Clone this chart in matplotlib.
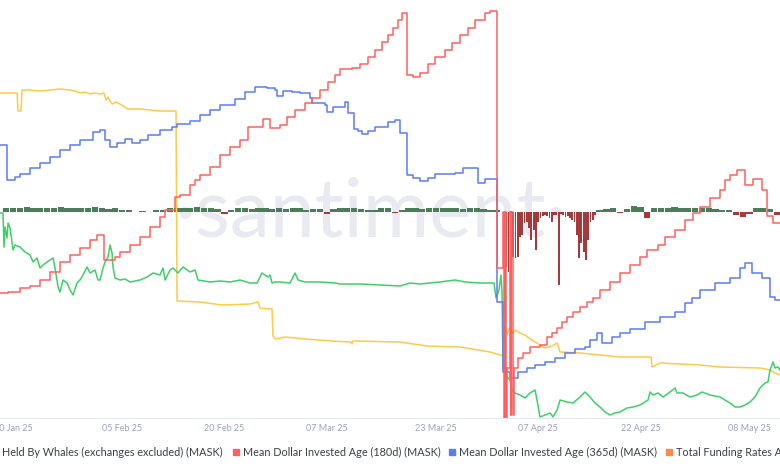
import numpy as np
import pandas as pd
import matplotlib
matplotlib.use("Agg")
import matplotlib.pyplot as plt
import matplotlib.dates as mdates
from matplotlib.patches import Rectangle

plt.rcParams['font.family'] = ['Lato', 'DejaVu Sans']

# x values are days after 20 Jan 2025, y values are heights read off the chart (no axis scale shown)
start = pd.Timestamp("2025-01-20")

# Mean Dollar Invested Age (180d), step line
mdia180_days = [-1.91, -0.73, 1.03, 2.49, 3.96, 5.43, 6.89, 8.36, 9.82, 11.29, 12.32, 13.34, 14.96, 15.69,
                17.16, 18.62, 20.09, 21.55, 22.29, 23.75, 24.49, 25.95, 26.69, 27.42, 28.89, 30.35, 31.82,
                33.28, 34.46, 36.66, 37.68, 39.15, 40.18, 41.35, 42.82, 43.84, 45.01, 46.19, 47.21, 47.95,
                49.71, 50.88, 52.05, 53.08, 54.11, 54.99, 55.72, 56.45, 57.04, 57.77, 58.65, 59.68, 60.85,
                61.88, 63.34, 64.37, 65.54, 66.72, 67.74, 69.21, 69.94, 70.97,
                71.85, 71.99, 72.14, 72.29, 72.43, 72.80, 72.95, 73.09, 73.24, 73.46,
                74.05, 74.78, 75.81, 77.27, 78.30, 79.03, 79.77, 80.50, 81.23, 82.11, 83.14, 84.16, 85.04,
                86.07, 87.54, 89.00, 90.47, 91.94, 92.96, 94.57, 95.60, 97.07, 98.53, 99.71, 100.73, 102.20,
                103.67, 104.40, 105.13, 106.16, 107.33, 108.50, 109.82, 110.56, 111.44, 112.46]
mdia180_vals = [125, 126, 130, 132, 138, 146, 156, 163, 170, 178, 183, 158, 161, 166,
                173, 181, 191, 201, 208, 221, 223, 233, 238, 243, 251, 263, 271,
                278, 291, 299, 290, 293, 301, 308, 315, 320, 328, 336, 343, 349,
                350, 354, 361, 368, 376, 383, 390, 398, 405, 343, 341, 345, 354,
                361, 368, 375, 383, 390, 398, 405, 407, 150,
                206, -5, 206, -5, 50, 206, 3, 206, 3, 50,
                60, 65, 71, 73, 81, 85, 90, 96, 101, 106, 111, 116, 120,
                128, 136, 145, 153, 161, 168, 173, 181, 188, 198, 205, 211, 220,
                228, 238, 243, 248, 233, 239, 228, 202, 195, 195]

# Mean Dollar Invested Age (365d), step line
mdia365_days = [-1.91, -0.88, 0.29, 1.03, 2.49, 3.96, 5.43, 6.89, 8.36, 9.82, 11.73, 12.76, 13.49, 14.22,
                15.25, 16.42, 17.45, 18.62, 19.79, 21.55, 23.31, 24.05, 25.95, 27.42, 28.89, 30.35, 32.55,
                34.02, 35.48, 37.24, 38.42, 38.71, 39.59, 40.91, 42.08, 43.55, 43.84, 45.75, 46.04, 46.92,
                48.68, 49.12, 50.00, 50.59, 51.17, 52.05, 53.08, 54.99, 56.01, 56.74, 57.77, 58.65, 59.68,
                60.85, 61.88, 64.81, 65.98, 68.18, 69.21, 70.97, 71.85, 72.87, 74.05, 75.37, 76.54, 78.01,
                79.47, 80.94, 82.40, 83.87, 84.60, 85.63, 86.36, 87.83, 89.00, 90.47, 92.67, 94.87, 97.07,
                98.53, 99.57, 100.73, 102.93, 105.13, 106.60, 107.33, 108.36, 109.82, 111.00, 111.73, 112.46]
mdia365_vals = [273, 238, 241, 244, 250, 255, 261, 268, 273, 278, 286, 288, 278, 271,
                275, 279, 275, 278, 283, 288, 291, 294, 297, 303, 308, 313, 319,
                326, 331, 330, 328, 322, 327, 326, 325, 320, 315, 313, 306, 311,
                316, 305, 289, 287, 284, 287, 291, 296, 298, 285, 243, 240, 237,
                240, 244, 245, 250, 235, 239, 116, 46, 40, 46, 50, 53, 56,
                60, 65, 69, 71, 78, 85, 75, 81, 85, 89, 96, 101, 106,
                115, 120, 128, 135, 140, 150, 155, 145, 140, 121, 118, 118]

# yellow series
yellow_days = [-1.91, 0.59, 0.73, 1.17, 1.32, 2.49, 3.96, 5.43, 6.89, 8.36, 9.09, 9.82, 10.56, 11.29, 12.02,
               12.76, 13.34, 13.64, 13.93, 14.22, 14.52, 15.10, 15.69, 16.86, 18.62, 20.09, 21.55, 23.90,
               24.05, 27.42, 30.65, 34.75, 35.92, 36.22, 37.98, 38.12, 38.42, 39.88, 42.96, 46.48, 49.56,
               49.71, 49.85, 56.74, 60.70, 65.54, 69.94, 71.41, 71.85, 72.14, 72.43, 72.87, 73.31, 73.61,
               74.34, 75.07, 76.10, 77.27, 78.01, 79.03, 79.77, 80.21, 83.14, 86.07, 89.00, 93.55, 93.70,
               94.87, 97.80, 100.73, 103.67, 109.53, 111.00, 111.73, 112.46]
yellow_vals = [325, 325, 307, 307, 328, 328, 327, 328, 329, 328, 327, 325, 326, 324, 325,
               324, 325, 318, 321, 317, 314, 316, 314, 309, 309, 308, 307, 307,
               117, 116, 113, 114, 116, 110, 109, 82, 79, 81, 79, 77, 76,
               74, 77, 76, 72, 71, 66, 63, 62, 93, 83, 91, 85, 88,
               85, 83, 78, 73, 70, 72, 75, 66, 65, 63, 61, 61, 51,
               55, 54, 53, 51, 50, 48, 45, 43]

# Held By Whales (exchanges excluded)
whales_days = [-1.91, -1.47, -1.32, -1.17, -0.88, -0.73, -0.44, 0.0, 0.29, 1.03, 1.76, 2.49, 2.93, 3.52,
               3.96, 4.40, 4.99, 5.43, 5.87, 6.16, 6.60, 6.89, 7.33, 7.92, 8.36, 8.80, 9.38, 9.82, 10.26,
               10.85, 11.29, 12.02, 12.46, 12.76, 13.20, 13.49, 13.93, 14.22, 14.52, 14.66, 14.96, 15.69,
               16.42, 17.16, 18.62, 19.65, 20.53, 21.55, 21.99, 22.29, 23.02, 23.46, 24.19, 24.93, 25.95,
               26.69, 27.13, 28.89, 30.35, 31.82, 33.28, 34.75, 35.78, 36.51, 36.95, 37.39, 37.68, 37.98,
               38.42, 39.15, 40.62, 41.35, 41.79, 42.82, 45.01, 47.21, 47.95, 50.88, 53.81, 56.74, 58.21,
               59.68, 62.61, 64.81, 66.28, 68.48, 70.53, 70.82, 71.26, 71.55, 71.70, 71.85, 72.14, 72.87,
               73.17, 73.61, 74.34, 75.07, 75.81, 76.54, 76.83, 77.27, 78.01, 78.74, 79.18, 79.77, 80.21,
               81.23, 82.11, 83.14, 83.87, 84.60, 85.34, 86.07, 86.80, 87.54, 88.27, 89.00, 90.03, 90.91,
               91.94, 93.11, 93.40, 93.84, 94.57, 95.31, 96.33, 97.07, 97.36, 98.24, 99.27, 100.29, 101.03,
               102.20, 103.67, 104.40, 105.13, 105.87, 106.60, 107.33, 108.06, 108.80, 109.53, 110.26,
               110.70, 111.00, 111.44, 111.73, 112.17, 112.46]
whales_vals = [205, 205, 171, 191, 180, 195, 190, 168, 173, 171, 166, 163, 156, 160,
               150, 153, 156, 158, 160, 150, 131, 126, 138, 135, 128, 123, 135, 138, 143,
               151, 145, 148, 138, 138, 150, 156, 161, 173, 165, 151, 140, 138,
               139, 136, 138, 141, 145, 143, 150, 138, 148, 150, 145, 151, 146,
               148, 138, 136, 137, 136, 138, 135, 135, 145, 143, 141, 143, 135,
               136, 136, 135, 145, 138, 136, 136, 135, 134, 134, 133, 132, 135,
               134, 136, 138, 136, 135, 135, 120, 128, 143, 125, 51, 43, 38,
               28, 25, 23, 20, 25, 28, 18, 1, 3, 5, 1, 8, 18,
               16, 15, 21, 26, 21, 15, 11, 6, 3, 5, 6, 10, 11,
               13, 18, 26, 23, 25, 21, 26, 30, 25, 25, 21, 23, 26,
               23, 21, 18, 15, 11, 11, 13, 16, 21, 30, 35,
               36, 48, 56, 50, 51, 48]

# Total funding rates (%), daily then 8h around the April drop
funding_days_a = list(range(-1, 72))
funding_a = [0.010, 0.011, 0.010, 0.012, 0.011, 0.010, 0.011, 0.010, 0.012, 0.010, 0.009, 0.011, 0.010,
             0.012, 0.010, 0.008, 0.010, 0.006, 0.004, 0.000, 0.003, 0.000, 0.004, 0.006, 0.009, 0.010,
             0.011, 0.010, 0.012, 0.010, 0.011, 0.008, -0.004, 0.005, 0.009, 0.010, 0.008, 0.010, 0.009,
             0.007, 0.010, 0.008, 0.009, 0.010, 0.006, 0.008, 0.007, -0.004, 0.008, 0.010, 0.009, 0.011,
             0.008, 0.006, 0.004, 0.009, 0.010, -0.003, 0.005, 0.009, 0.010, 0.008, 0.009, 0.010, 0.011,
             0.009, 0.010, 0.008, 0.010, 0.009, 0.008, 0.006, 0.004]
funding_days_b = [72 + k / 3 for k in range(41)]
funding_b = [-0.125, -0.138, -0.150, -0.125, -0.113, -0.115, -0.113, -0.063, -0.058, -0.028, -0.025,
             -0.040, -0.070, -0.045, -0.095, -0.025, -0.015, -0.010, -0.008, -0.010, -0.015, -0.025,
             -0.008, -0.008, -0.183, -0.005, -0.008, -0.013, -0.010, -0.015, -0.020, -0.025, -0.058,
             -0.115, -0.078, -0.100, -0.120, -0.070, -0.025, -0.020, -0.008]
funding_days_c = list(range(86, 113))
funding_c = [0.006, 0.008, 0.010, -0.003, 0.008, 0.014, 0.012, -0.015, 0.010, 0.011, 0.010, 0.012, 0.010,
             0.011, 0.010, 0.009, 0.010, 0.008, 0.006, 0.005, -0.008, -0.012, -0.006, 0.009, 0.010, 0.008,
             -0.008]

tick_dates = ["2025-01-20", "2025-02-05", "2025-02-20", "2025-03-07", "2025-03-23",
              "2025-04-07", "2025-04-22", "2025-05-08"]


def to_dates(days):
    return start + pd.to_timedelta(np.array(days, dtype=float), unit="D")


fig = plt.figure(figsize=(7.8, 4.7), dpi=100)
fig.patch.set_facecolor("white")
ax = fig.add_axes([0, 52 / 470, 1, 418 / 470])
ax2 = ax.twinx()
ax.set_zorder(ax2.get_zorder() + 1)
ax.patch.set_visible(False)

# watermark and funding bars sit on the lower axes
ax2.text(0.475, 0.49, "·santiment·", transform=ax2.transAxes, ha="center", va="center",
         fontsize=58, color="#e8e9f1", zorder=0)
for d, f, w in [(funding_days_a, funding_a, 0.92), (funding_days_b, funding_b, 0.26),
                (funding_days_c, funding_c, 0.92)]:
    f = np.array(f)
    cols = np.where(f >= 0, "#4b7d5a", "#a63a3a")
    ax2.bar(to_dates(d), f, width=w, color=cols, zorder=2)
ax2.set_ylim(-206 / 400, 212 / 400)
ax2.set_yticks([])

lw = 1.1
ax.plot(to_dates(yellow_days), yellow_vals, color="#ffc94a", lw=lw)
ax.plot(to_dates(whales_days), whales_vals, color="#3fcf68", lw=lw)
ax.plot(to_dates(mdia365_days), mdia365_vals, color="#5b7cf7", lw=lw, drawstyle="steps-post")
ax.plot(to_dates(mdia180_days), mdia180_vals, color="#ff5f5f", lw=lw, drawstyle="steps-post")

ax.set_ylim(0, 418)
ax.set_xlim(start + pd.Timedelta(days=-1.91), start + pd.Timedelta(days=112.46))
ax.set_yticks([])
ticks = pd.to_datetime(tick_dates)
ax.set_xticks(ticks)
ax.xaxis.set_major_formatter(mdates.DateFormatter("%d %b %y"))
ax.tick_params(axis="x", length=0, pad=4, labelsize=6.5, labelcolor="#9aa3b8")
for s in ["top", "left", "right"]:
    ax.spines[s].set_visible(False)
    ax2.spines[s].set_visible(False)
ax.spines["bottom"].set_color("#e4e7ee")
ax.spines["bottom"].set_linewidth(0.8)
ax2.spines["bottom"].set_visible(False)

# legend row, wider than the figure, so it is cut at both ends
ly = 18 / 470
legend_items = [
    (None, 2, "Held By Whales (exchanges excluded) (MASK)"),
    ("#ff5f5f", 233, "Mean Dollar Invested Age (180d) (MASK)"),
    ("#5b7cf7", 449, "Mean Dollar Invested Age (365d) (MASK)"),
    ("#ff8a45", 666, "Total Funding Rates Aggregated by Exchange (MASK)"),
]
for color, px, label in legend_items:
    tx = px
    if color is not None:
        fig.patches.append(Rectangle((px / 780, ly - 3 / 470), 6 / 780, 6 / 470,
                                     transform=fig.transFigure, color=color))
        tx = px + 10
    fig.text(tx / 780, ly, label, ha="left", va="center", fontsize=7.8, color="#3b3f4a")

plt.savefig("out.png", dpi=100)
